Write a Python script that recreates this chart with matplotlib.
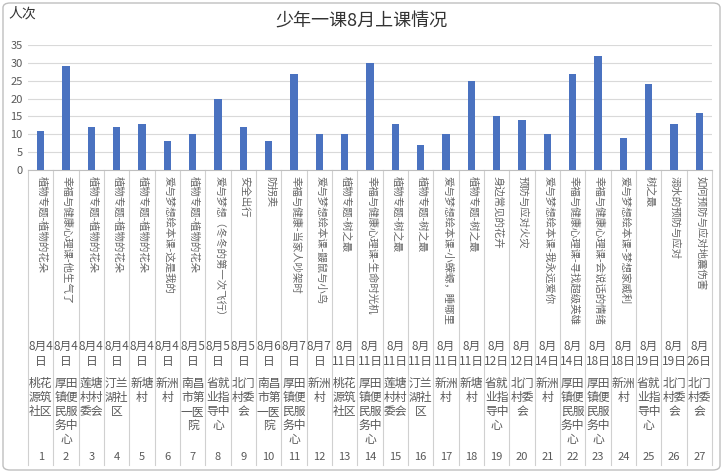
import matplotlib
matplotlib.use("Agg")
import matplotlib.pyplot as plt
import matplotlib.transforms as mtrans
from matplotlib.patches import FancyBboxPatch

plt.rcParams['font.family'] = ['Noto Sans CJK SC', 'DejaVu Sans']

values = [11, 29, 12, 12, 13, 8, 10, 20, 12, 8, 27, 10, 10, 30, 13, 7, 10, 25, 15, 14,
          10, 27, 32, 9, 24, 13, 16]
topics = ["植物专题-植物的花朵", "幸福与健康心理课-他生气了", "植物专题-植物的花朵",
          "植物专题-植物的花朵", "植物专题-植物的花朵", "爱与梦想绘本课-这是我的",
          "植物专题-植物的花朵", "爱与梦想（冬冬的第一次飞行）", "安全出行", "防拐卖",
          "幸福与健康-当家人吵架时", "爱与梦想绘本课-鼹鼠与小鸟", "植物专题-树之最",
          "幸福与健康心理课-生命时光机", "植物专题-树之最", "植物专题-树之最",
          "爱与梦想绘本课-小蝾螈，睡哪里", "植物专题-树之最", "身边常见的花卉",
          "预防与应对火灾", "爱与梦想绘本课-我永远爱你", "幸福与健康心理课-寻找超级英雄",
          "幸福与健康心理课-会说话的情绪", "爱与梦想绘本课-梦想家威利", "树之最",
          "溺水的预防与应对", "如何预防与应对地震伤害"]
days = [4, 4, 4, 4, 4, 4, 5, 5, 5, 6, 7, 7, 11, 11, 11, 11, 11, 11, 12, 12,
        14, 14, 18, 18, 19, 19, 26]
places = ["桃花源筑社区", "厚田镇便民服务中心", "莲塘村村委会", "汀兰湖社区", "新塘村", "新洲村",
          "南昌市第一医院", "省就业指导中心", "北门村委会", "南昌市第一医院", "厚田镇便民服务中心",
          "新洲村", "桃花源筑社区", "厚田镇便民服务中心", "莲塘村村委会", "汀兰湖社区", "新洲村",
          "新塘村", "省就业指导中心", "北门村委会", "新洲村", "厚田镇便民服务中心",
          "厚田镇便民服务中心", "新洲村", "省就业指导中心", "北门村委会", "北门村委会"]

W, H = 723, 473
fig = plt.figure(figsize=(W / 100, H / 100), dpi=100)
fig.patches.append(FancyBboxPatch((3 / W, 3 / H), 1 - 6 / W, 1 - 6 / H,
                                  boxstyle="round,pad=0,rounding_size=0.01",
                                  transform=fig.transFigure, fill=False,
                                  edgecolor="#bfbfbf", linewidth=1))

x0, x1, ytop, ybot = 28, 712, 45, 170
ax = fig.add_axes([x0 / W, 1 - ybot / H, (x1 - x0) / W, (ybot - ytop) / H])
n = len(values)
xs = list(range(n))
ax.bar(xs, values, width=0.3, color="#4a72c0", zorder=3)
ax.set_xlim(-0.5, n - 0.5)
ax.set_ylim(0, 35)
ax.set_yticks(range(0, 36, 5))
ax.tick_params(axis='y', length=0, labelsize=8, colors="#595959", pad=4)
ax.set_xticks([])
ax.grid(axis='y', color="#d9d9d9", linewidth=0.8, zorder=0)
for s in ["top", "right", "left"]:
    ax.spines[s].set_visible(False)
ax.spines["bottom"].set_color("#bfbfbf")

fig.text(0.5, 1 - 22 / H, "少年一课8月上课情况", ha="center", va="center",
         fontsize=13, color="#333333")
fig.text(8 / W, 1 - 14 / H, "人次", ha="left", va="center", fontsize=10, color="#333333")

sep_bottom = -(465 - ybot) / (ybot - ytop)
for i in range(n + 1):
    ax.axvline(i - 0.5, ymin=sep_bottom, ymax=0, color="#d0d0d0", linewidth=0.8,
               clip_on=False)


def fy(py):
    return 1 - py / H


tr = mtrans.blended_transform_factory(ax.transData, fig.transFigure)
for i in range(n):
    ax.text(i + 0.05, fy(176), topics[i], rotation=270, ha="center", va="top",
            fontsize=7.5, color="#666666", transform=tr)
    d = days[i]
    date = f"8月{d}\n日" if d < 10 else f"8月\n{d}日"
    ax.text(i, fy(340), date, ha="center", va="top", fontsize=8.5, color="#595959",
            transform=tr, linespacing=1.15)
    p = places[i]
    wrapped = "\n".join(p[k:k + 2] for k in range(0, len(p), 2))
    ax.text(i, fy(377), wrapped, ha="center", va="top", fontsize=8.5, color="#595959",
            transform=tr, linespacing=1.1)
    ax.text(i, fy(457), str(i + 1), ha="center", va="center", fontsize=8,
            color="#595959", transform=tr)

fig.savefig("out.png", dpi=100)
